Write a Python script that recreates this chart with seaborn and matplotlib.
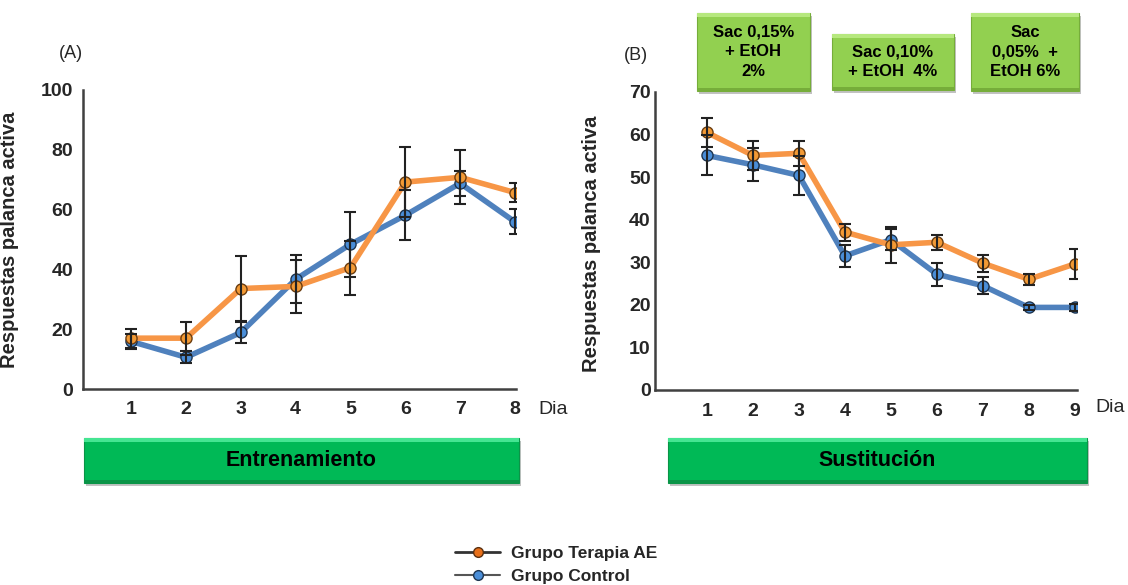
import pandas as pd
import seaborn as sns
import matplotlib.pyplot as plt
from matplotlib.patches import Rectangle
from matplotlib.lines import Line2D

# Datos panel A (Entrenamiento)
dias_a = [1, 2, 3, 4, 5, 6, 7, 8]
terapia_a = [17.0, 17.0, 33.6, 34.3, 40.6, 69.2, 70.8, 65.7]
terapia_a_err = [3.2, 5.5, 11.0, 9.0, 9.0, 11.6, 9.0, 3.1]
control_a = [15.9, 10.6, 18.9, 36.7, 48.4, 58.1, 68.8, 55.9]
control_a_err = [2.5, 2.0, 3.5, 8.0, 10.8, 8.4, 4.1, 4.2]

# Datos panel B (Sustitución)
dias_b = [1, 2, 3, 4, 5, 6, 7, 8, 9]
terapia_b = [60.5, 55.1, 55.6, 37.1, 34.1, 34.7, 29.8, 26.0, 29.6]
terapia_b_err = [3.4, 3.4, 3.0, 2.0, 4.3, 1.7, 2.0, 1.3, 3.5]
control_b = [55.1, 52.9, 50.4, 31.5, 35.3, 27.2, 24.5, 19.4, 19.4]
control_b_err = [4.7, 3.9, 4.6, 2.5, 2.5, 2.7, 2.0, 0.6, 0.8]

grupos = ["Grupo Terapia AE", "Grupo Control"]
cajas_sac = ["Sac 0,15%\n+ EtOH\n2%", "Sac 0,10%\n+ EtOH  4%", "Sac\n0,05%  +\nEtOH 6%"]

NARANJA = "#f79646"
NARANJA_M = "#f39a35"
AZUL = "#4f81bd"
AZUL_M = "#4a8ed8"
GRIS = "#404040"

sns.set_style("white")
plt.rcParams['font.family'] = ['Liberation Sans', 'DejaVu Sans']

W, H = 1128, 585
fig = plt.figure(figsize=(W / 100, H / 100), dpi=100)


def px_ax(x0, y0, x1, y1):
    return fig.add_axes([x0 / W, 1 - y1 / H, (x1 - x0) / W, (y1 - y0) / H])


def caja(x0, y0, x1, y1, color, claro, oscuro, texto, size, lsp=1.2):
    fx, fy = x0 / W, 1 - y1 / H
    fw, fh = (x1 - x0) / W, (y1 - y0) / H
    # sombra
    fig.patches.append(Rectangle((fx + 2 / W, fy - 3 / H), fw, fh, transform=fig.transFigure,
                                 facecolor="#9a9a9a", edgecolor="none", alpha=0.6, zorder=1))
    fig.patches.append(Rectangle((fx, fy), fw, fh, transform=fig.transFigure,
                                 facecolor=color, edgecolor=oscuro, linewidth=0.8, zorder=2))
    fig.patches.append(Rectangle((fx, fy + fh - 4 / H), fw, 4 / H, transform=fig.transFigure,
                                 facecolor=claro, edgecolor="none", zorder=3))
    fig.patches.append(Rectangle((fx, fy), fw, 3 / H, transform=fig.transFigure,
                                 facecolor=oscuro, edgecolor="none", zorder=3))
    fig.text(fx + fw / 2, fy + fh / 2, texto, ha="center", va="center", fontsize=size,
             fontweight="bold", color="black", linespacing=lsp, zorder=4)


def panel(ax, dias, ter, ter_err, con, con_err, xlim, ylim, paso, ypad):
    df_con = pd.DataFrame({"Dia": dias, "valor": con})
    df_ter = pd.DataFrame({"Dia": dias, "valor": ter})
    sns.lineplot(data=df_con, x="Dia", y="valor", ax=ax, color=AZUL, linewidth=4,
                 marker="o", markersize=8, markerfacecolor=AZUL_M, markeredgecolor="#1e3550",
                 markeredgewidth=1, zorder=3)
    sns.lineplot(data=df_ter, x="Dia", y="valor", ax=ax, color=NARANJA, linewidth=4,
                 marker="o", markersize=8, markerfacecolor=NARANJA_M, markeredgecolor="#6b3d10",
                 markeredgewidth=1, zorder=4)
    ax.errorbar(dias, con, yerr=con_err, fmt="none", ecolor="#222222", elinewidth=1.5,
                capsize=4, capthick=1.5, zorder=5)
    ax.errorbar(dias, ter, yerr=ter_err, fmt="none", ecolor="#222222", elinewidth=1.5,
                capsize=4, capthick=1.5, zorder=5)
    ax.set_xlim(*xlim)
    ax.set_ylim(*ylim)
    ax.set_xticks(dias)
    ax.set_yticks(range(0, ylim[1] + 1, paso))
    ax.set_facecolor("none")
    for s in ["top", "right"]:
        ax.spines[s].set_visible(False)
    for s in ["left", "bottom"]:
        ax.spines[s].set_color(GRIS)
        ax.spines[s].set_linewidth(1.8)
    ax.tick_params(axis="both", direction="in", length=4, width=1.5, color=GRIS)
    ax.tick_params(axis="x", pad=9, labelsize=14)
    ax.tick_params(axis="y", pad=ypad, labelsize=14)
    for lab in ax.get_xticklabels() + ax.get_yticklabels():
        lab.set_fontweight("bold")
    ax.set_xlabel("")
    ax.set_ylabel("Respuestas palanca activa", fontsize=14.5, fontweight="bold")


ax_a = px_ax(83, 90, 516, 389)
panel(ax_a, dias_a, terapia_a, terapia_a_err, control_a, control_a_err,
      (0.12, 8.02), (0, 100), 20, 7)
ax_a.yaxis.set_label_coords(-0.148, 0.5)

ax_b = px_ax(655, 92, 1077, 390)
panel(ax_b, dias_b, terapia_b, terapia_b_err, control_b, control_b_err,
      (-0.13, 9.05), (0, 70), 10, 3)
ax_b.yaxis.set_label_coords(-0.128, 0.49)

fig.text(553 / W, 1 - 410 / H, "Dia", fontsize=14, ha="center", va="center")
fig.text(1110 / W, 1 - 408 / H, "Dia", fontsize=14, ha="center", va="center")
fig.text(71 / W, 1 - 53 / H, "(A)", fontsize=13, ha="center", va="center")
fig.text(636 / W, 1 - 56 / H, "(B)", fontsize=13, ha="center", va="center")

# cajas inferiores
caja(84, 438, 519, 483, "#00b956", "#45e592", "#0a9447", "Entrenamiento", 15.5)
caja(668, 438, 1087, 483, "#00b956", "#45e592", "#0a9447", "Sustitución", 15.5)

# cajas superiores
caja(697, 13, 810, 91, "#92d050", "#b6e87e", "#76ad3a", cajas_sac[0], 12, 1.4)
caja(832, 34, 954, 90, "#92d050", "#b6e87e", "#76ad3a", cajas_sac[1], 12, 1.4)
caja(971, 13, 1079, 91, "#92d050", "#b6e87e", "#76ad3a", cajas_sac[2], 12, 1.4)

handles = [
    Line2D([0], [0], color="#333333", linewidth=2, marker="o", markersize=7,
           markerfacecolor="#e8701a", markeredgecolor="#5a3010"),
    Line2D([0], [0], color="#555555", linewidth=1.5, marker="o", markersize=7,
           markerfacecolor=AZUL_M, markeredgecolor="#1e3550"),
]
leg = fig.legend(handles, grupos, loc="center", bbox_to_anchor=(556 / W, 1 - 565 / H),
                 frameon=False, fontsize=12.5, handlelength=2.6, labelspacing=0.5,
                 handletextpad=0.6, borderaxespad=0)
for t in leg.get_texts():
    t.set_fontweight("bold")

fig.savefig("out.png", dpi=100)
